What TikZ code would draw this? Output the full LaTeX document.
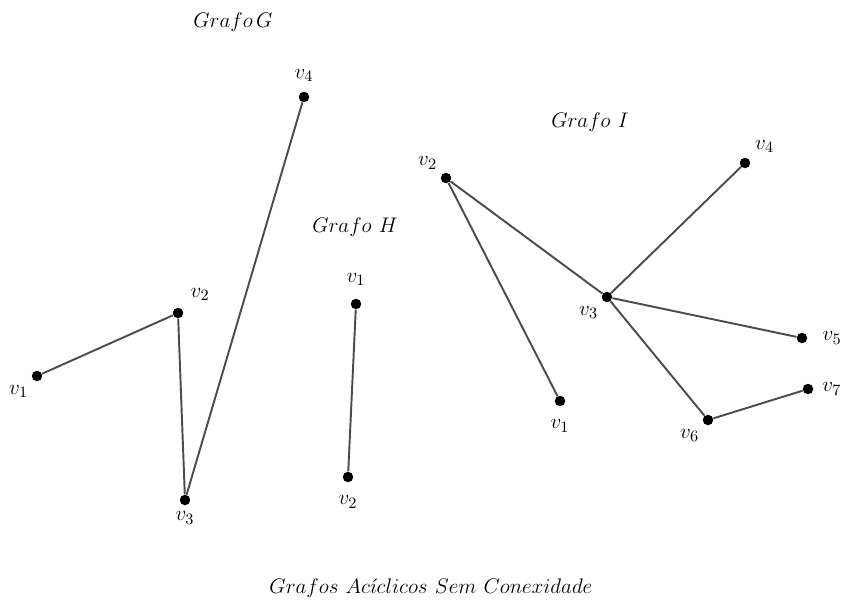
\documentclass[tikz,border=0pt]{standalone}
\usetikzlibrary{positioning}
\tikzset{
  vert/.style={circle,fill=black,inner sep=0pt,minimum size=0.21cm},
  aresta/.style={draw=black!70,line width=1.1pt},
  titulo/.style={font=\fontsize{12.6}{15}\selectfont},
  every label/.style={font=\fontsize{12.5}{15}\selectfont}
}
\begin{document}
\begin{tikzpicture}[x=0.02cm,y=-0.02cm]
  \useasboundingbox (0,0) rectangle (843,600);
  % grafo G
  \node[titulo] (tG) at (233,22) {$Grafo\,G$};
  \draw
    (37,376) node[vert,label={[label distance=-1pt]below left:$v_1$}] (g1){}
    (178,313) node[vert,label={[label distance=2pt]above right:$v_2$}] (g2){}
    (185,500) node[vert,label={[label distance=0pt]below:$v_3$}] (g3){}
    (304,97) node[vert,label={[label distance=2pt]above:$v_4$}] (g4){};
  % grafo H
  \node[titulo] (tH) at (355,227) {$Grafo\ H$};
  \draw
    (356,304) node[vert,label={[label distance=4pt]above:$v_1$}] (h1){}
    (348,477) node[vert,label={[label distance=4pt]below:$v_2$}] (h2){};
  % grafo I
  \node[titulo] (tI) at (590,122) {$Grafo\ I$};
  \draw
    (560,401) node[vert,label={[label distance=4pt]below:$v_1$}] (i1){}
    (446,178) node[vert,label={[label distance=-1pt]above left:$v_2$}] (i2){}
    (607,297) node[vert,label={[label distance=-1pt]below left:$v_3$}] (i3){}
    (745,163) node[vert,label={[label distance=0pt]above right:$v_4$}] (i4){}
    (802,338) node[vert,label={[label distance=5pt]right:$v_5$}] (i5){}
    (708,420) node[vert,label={[label distance=-1pt]below left:$v_6$}] (i6){}
    (808,389) node[vert,label={[label distance=1.5pt]right:$v_7$}] (i7){};
  \begin{scope}[-]
    \draw[aresta] (g1) to (g2);
    \draw[aresta] (g2) to (g3);
    \draw[aresta] (g3) to (g4);
    \draw[aresta] (h1) to (h2);
    \draw[aresta] (i2) to (i1);
    \draw[aresta] (i2) to (i3);
    \draw[aresta] (i3) to (i4);
    \draw[aresta] (i3) to (i5);
    \draw[aresta] (i3) to (i6);
    \draw[aresta] (i6) to (i7);
  \end{scope}
  \node[titulo] (tot) at (431,588) {$Grafos\ Ac\acute{\imath}clicos\ Sem\ Conexidade$};
\end{tikzpicture}
\end{document}
